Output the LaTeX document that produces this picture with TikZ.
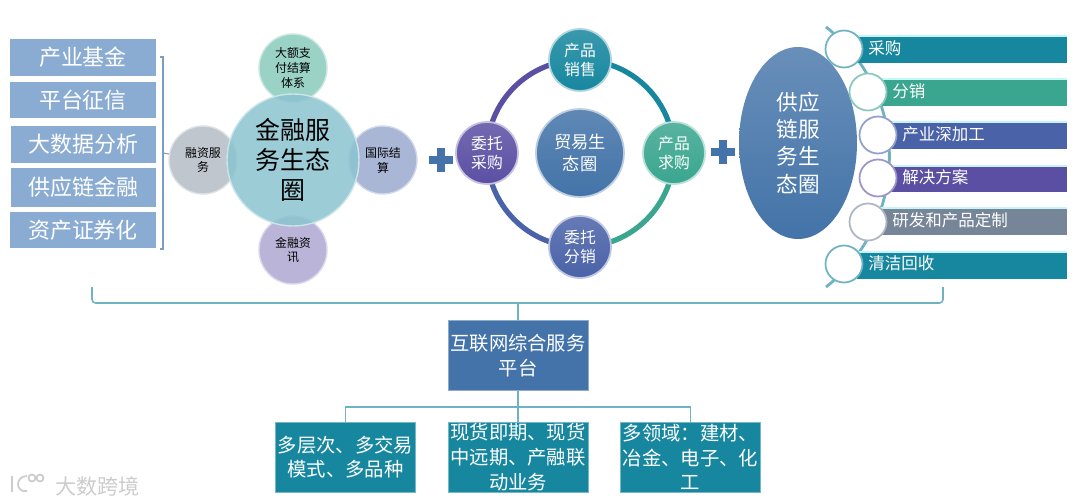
\documentclass[tikz,border=0pt]{standalone}
\usepackage{fontspec}
\setmainfont{Noto Sans CJK SC}
\usetikzlibrary{shapes.geometric,backgrounds}
\definecolor{boxblue}{HTML}{8AACD2}
\definecolor{deepblue}{HTML}{4373A8}
\definecolor{teal}{HTML}{17879F}
\definecolor{green}{HTML}{3AA68F}
\definecolor{indigo}{HTML}{4A62A8}
\definecolor{violet}{HTML}{5B4FA3}
\definecolor{slate}{HTML}{768598}
\definecolor{linkblue}{HTML}{6FB3C2}
\begin{document}
\begin{tikzpicture}[
    x=0.02cm, y=-0.02cm,
    sidebox/.style={rectangle, fill=boxblue, minimum width=2.92cm, minimum height=0.74cm, inner sep=0pt, text=white, font=\fontsize{12.5}{15}\selectfont},
    glass/.style={circle, draw=#1!45!white, line width=0.8pt, fill=#1, fill opacity=0.85, text opacity=1, minimum size=1.36cm, inner sep=0pt, align=center, font=\fontsize{6.8}{8.5}\selectfont},
    ball/.style={circle, draw=#1!35!white, line width=1pt, top color=#1!85!white, bottom color=#1, minimum size=1.24cm, inner sep=0pt, align=center, text=white, font=\fontsize{9}{10.8}\selectfont},
    ringarc/.style={line width=3pt, draw=#1},
    plusbar/.style={line width=4.5pt, draw=deepblue},
    bar/.style={rectangle, fill=#1, minimum height=0.56cm, inner sep=0pt, path picture={\fill[#1!30!cyan!25!white] (path picture bounding box.north west) rectangle ([yshift=-1.2pt]path picture bounding box.north east);}},
    barlabel/.style={anchor=west, inner sep=0pt, text=white, font=\fontsize{9.4}{11}\selectfont},
    hole/.style={circle, draw=#1, line width=1pt, fill=white, minimum size=0.74cm, inner sep=0pt},
    flatbox/.style={rectangle, fill=#1, draw=#1!60!white, line width=0.4pt, minimum width=2.8cm, minimum height=1.4cm, inner sep=0pt, align=center, text=white, font=\fontsize{11}{14}\selectfont},
    link/.style={draw=linkblue, line width=0.9pt},
    markline/.style={draw=gray!40, line width=1pt}
  ]
    \useasboundingbox (0,0) rectangle (1080,504);

    \node[sidebox] (fund) at (83,57.5) {产业基金};
    \node[sidebox] (credit) at (83,100) {平台征信};
    \node[sidebox] (data) at (83.5,144.5) {大数据分析};
    \node[sidebox, minimum height=0.78cm] (chain) at (83.5,187.5) {供应链金融};
    \node[sidebox] (assets) at (83,230) {资产证券化};

    \node[glass=green!60!white] (pay) at (293,68) {大额支\\付结算\\体系};
    \node[glass=slate!55!white] (raise) at (203,160) {融资服\\务};
    \node[glass=indigo!55!white] (settle) at (383,160) {国际结\\算};
    \node[glass=violet!50!white] (news) at (293,250) {金融资\\讯};
    \node[glass=teal!50!white, minimum size=2.64cm, font=\fontsize{14.2}{17}\selectfont] (finance) at (293,160) {金融服\\务生态\\圈};

    \coordinate (bracetop) at (160,57);
    \coordinate (bracebot) at (160,249);
    \coordinate (bracemid) at (163,153);
    \draw[draw=deepblue!70!white, line width=0.6pt] (bracetop) -- ++(3,0) -- ++(0,192) -- (bracebot);
    \draw[draw=deepblue!70!white, line width=0.6pt] (bracemid) -- (raise);

    \coordinate (plusa) at (441,160);
    \draw[plusbar] ([xshift=-12*0.02cm]plusa) -- ([xshift=12*0.02cm]plusa);
    \draw[plusbar] ([yshift=12*0.02cm]plusa) -- ([yshift=-12*0.02cm]plusa);
    \coordinate (plusb) at (723,152);
    \draw[plusbar] ([xshift=-12*0.02cm]plusb) -- ([xshift=12*0.02cm]plusb);
    \draw[plusbar] ([yshift=12*0.02cm]plusb) -- ([yshift=-12*0.02cm]plusb);

    \node[ball=teal] (sell) at (580,60) {产品\\销售};
    \node[ball=green] (seek) at (674,153) {产品\\求购};
    \node[ball=indigo] (dist) at (580,247) {委托\\分销};
    \node[ball=violet] (buy) at (487,153) {委托\\采购};
    \node[ball=deepblue, minimum size=1.76cm, font=\fontsize{9.8}{12.5}\selectfont] (trade) at (580,153) {贸易生\\态圈};

    \begin{scope}[on background layer]
      \draw[ringarc=teal] (sell.center) to[bend left=45] (seek.center);
      \draw[ringarc=green] (seek.center) to[bend left=45] (dist.center);
      \draw[ringarc=indigo] (dist.center) to[bend left=45] (buy.center);
      \draw[ringarc=violet] (buy.center) to[bend left=45] (sell.center);
    \end{scope}

    \coordinate (arctop) at (826,27);
    \draw[draw=linkblue, line width=1.6pt] (arctop) arc[start angle=52, end angle=-52, radius=3.3cm];

    \node[ellipse, top color=deepblue!80!white, bottom color=deepblue, minimum width=2.36cm, minimum height=3.84cm, inner sep=0pt, align=center, text=white, font=\fontsize{12.3}{15.5}\selectfont] (supply) at (798,143) {供应\\链服\\务生\\态圈};

    \node[bar=teal, minimum width=4.2cm] (barbuy) at (962,49) {};
    \node[bar=green, minimum width=3.8cm] (bardist) at (972,92) {};
    \node[bar=indigo, minimum width=3.54cm] (barproc) at (978.5,135) {};
    \node[bar=violet, minimum width=3.54cm] (barplan) at (978.5,178.5) {};
    \node[bar=slate, minimum width=3.8cm] (barlab) at (972,221) {};
    \node[bar=teal, minimum width=4.2cm] (barback) at (962,264.5) {};

    \node[hole=linkblue] (dotbuy) at (844,49) {};
    \node[hole=green!60!white] (dotdist) at (868,92) {};
    \node[hole=indigo!60!white] (dotproc) at (878,135) {};
    \node[hole=violet!60!white] (dotplan) at (878,178) {};
    \node[hole=slate!60!white] (dotlab) at (868,222) {};
    \node[hole=linkblue] (dotback) at (844,264) {};

    \node[barlabel] (txtbuy) at (868,48) {采购};
    \node[barlabel] (txtdist) at (892,91) {分销};
    \node[barlabel] (txtproc) at (902,134) {产业深加工};
    \node[barlabel] (txtplan) at (902,177) {解决方案};
    \node[barlabel] (txtlab) at (892,220) {研发和产品定制};
    \node[barlabel] (txtback) at (868,263) {清洁回收};

    \node[flatbox=deepblue] (platform) at (518,355.5) {互联网综合服务\\平台};
    \node[flatbox=teal] (modes) at (345.5,457) {多层次、多交易\\模式、多品种};
    \node[flatbox=teal] (spot) at (518,457) {现货即期、现货\\中远期、产融联\\动业务};
    \node[flatbox=teal] (fields) at (690.5,457) {多领域：建材、\\冶金、电子、化\\工};

    \coordinate (capleft) at (92,287);
    \coordinate (capright) at (943,287);
    \coordinate (capmid) at (518,303);
    \draw[link, rounded corners=2pt] (capleft) |- (capmid) -| (capright);
    \draw[link] (capmid) -- (platform);
    \draw[link] (platform.south) -- ++(0,16) -| (modes.north);
    \draw[link] (platform.south) -- ++(0,16) -| (fields.north);
    \draw[link] (platform) -- (spot);

    \draw[markline] (12,476) -- (12,492);
    \draw[markline] (27,476) .. controls (15,476) and (15,493) .. (27,491);
    \draw[markline] (32,478) circle[radius=3.5];
    \draw[markline] (40,478) circle[radius=3.5];
    \node[inner sep=0pt, anchor=west, text=gray!40, font=\fontsize{12}{15}\selectfont] (mark) at (55,486) {大数跨境};
\end{tikzpicture}
\end{document}
